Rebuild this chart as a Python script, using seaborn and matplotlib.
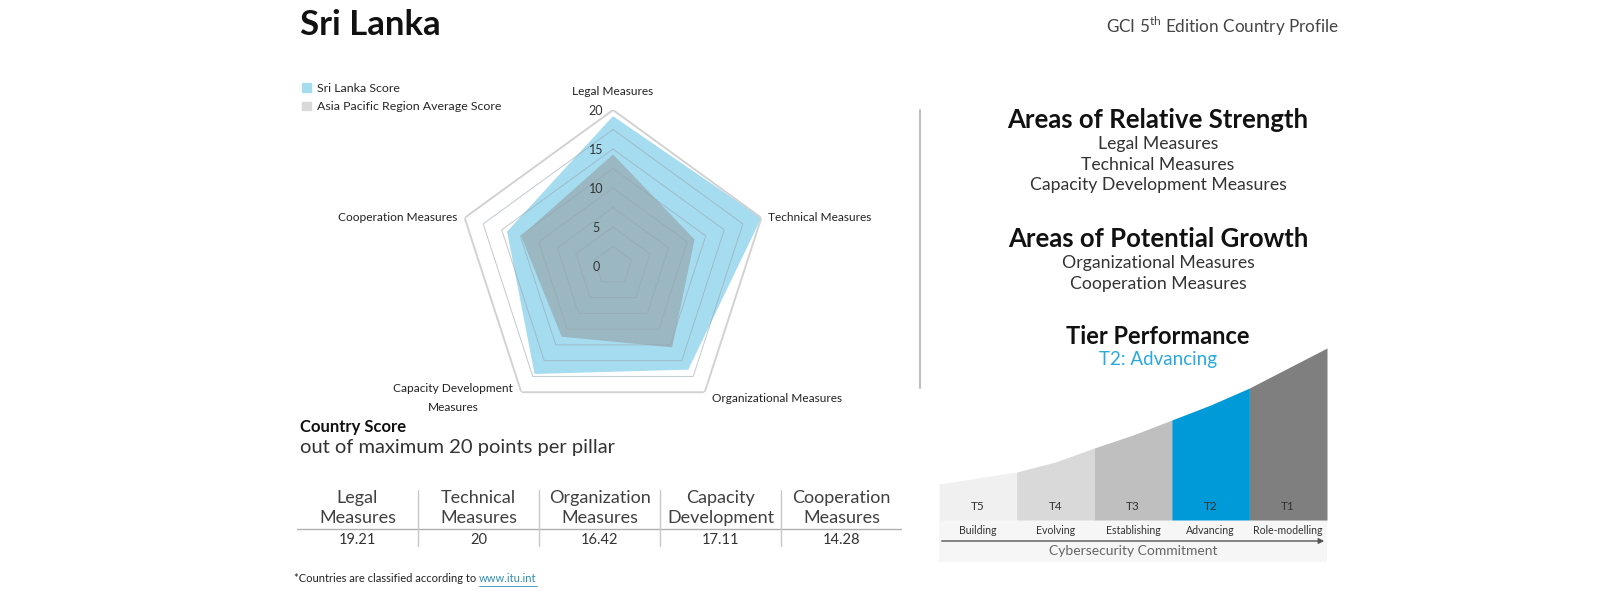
import numpy as np
import matplotlib.pyplot as plt
import seaborn as sns
from matplotlib.patches import Patch, Rectangle
from matplotlib.lines import Line2D

# ----------------------------------------------------------------------
# Data read from the GCI country profile
# ----------------------------------------------------------------------
country = "Sri Lanka"
pillars = ["Legal Measures", "Technical Measures", "Organizational Measures",
           "Capacity Development\nMeasures", "Cooperation Measures"]
country_scores = [19.21, 20, 16.42, 17.11, 14.28]
region_scores = [14.3, 11.0, 12.9, 11.2, 12.4]
ring_levels = [2.5, 5, 7.5, 10, 12.5, 15, 17.5, 20]
ring_labels = [0, 5, 10, 15, 20]

table_headers = ["Legal\nMeasures", "Technical\nMeasures", "Organization\nMeasures",
                 "Capacity\nDevelopment", "Cooperation\nMeasures"]
table_values = ["19.21", "20", "16.42", "17.11", "14.28"]

strengths = ["Legal Measures", "Technical Measures", "Capacity Development Measures"]
growth = ["Organizational Measures", "Cooperation Measures"]

tiers = ["T5", "T4", "T3", "T2", "T1"]
tier_names = ["Building", "Evolving", "Establishing", "Advancing", "Role-modelling"]
tier_colors = ["#f0f0f0", "#d9d9d9", "#bfbfbf", "#009ad9", "#7f7f7f"]
# height of the curved top, sampled at every half tier
tier_curve = [36, 42, 48, 58, 72, 85, 100, 115, 132, 152, 172]
current_tier = "T2: Advancing"

BLUE = "#a6dcf0"
W, H = 1600, 600


def fx(x):
    return x / W


def fy(y):
    return 1 - y / H


sns.set_theme(style="white")
plt.rcParams["font.family"] = ["Lato", "DejaVu Sans"]
plt.rcParams["mathtext.fontset"] = "custom"
plt.rcParams["mathtext.rm"] = "Lato"

fig = plt.figure(figsize=(16, 6), dpi=100)
fig.patch.set_facecolor("white")

# header
fig.text(fx(300), fy(25), country, fontsize=25, fontweight="bold", va="center", color="#111111")
fig.text(fx(1339), fy(26), r"GCI 5$^{\mathrm{th}}$ Edition Country Profile",
         fontsize=12.3, ha="right", va="center", color="#444444")

# ----------------------------------------------------------------------
# Radar chart
# ----------------------------------------------------------------------
ax = fig.add_axes([fx(457), fy(422), 312 / W, 312 / H], projection="polar")
ax.set_aspect("auto")
ax.set_theta_offset(np.pi / 2)
ax.set_theta_direction(-1)
theta = np.linspace(0, 2 * np.pi, len(pillars), endpoint=False)
tc = np.append(theta, theta[0])


def closed(v):
    return np.append(v, v[0])


ax.fill(tc, closed(country_scores), color=BLUE, lw=0, zorder=2)
ax.fill(tc, closed(region_scores), color="#8c8c8c", alpha=0.45, lw=0, zorder=3)
for r in ring_levels:
    outer = r == ring_levels[-1]
    ax.plot(tc, [r] * len(tc), color="#d2d2d2" if outer else "#98a6ad",
            lw=1.4 if outer else 0.7, alpha=1 if outer else 0.6, zorder=4)
for v in ring_labels:
    ax.annotate(str(v), (0, v), xytext=(-17, -1), textcoords="offset pixels",
                ha="center", va="center", fontsize=9, color="#333333", zorder=5)
ax.set_ylim(0, 20)
ax.axis("off")

label_pos = [((0, 13), "center", "bottom"), ((7, 0), "left", "center"),
             ((7, -6), "left", "center"), ((-68, -6), "center", "center"),
             ((-7, 0), "right", "center")]
for t, name, (off, ha, va) in zip(theta, pillars, label_pos):
    ax.annotate(name, (t, 20), xytext=off, textcoords="offset pixels", ha=ha, va=va,
                fontsize=8.6, color="#222222", linespacing=1.9)

fig.legend(handles=[Patch(color=BLUE, label=f"{country} Score"),
                    Patch(color="#d9d9d9", label="Asia Pacific Region Average Score")],
           loc="upper left", bbox_to_anchor=(fx(302), fy(83)), frameon=False,
           fontsize=8.9, handlelength=0.7, handleheight=0.7, handletextpad=0.5,
           labelspacing=0.6, borderaxespad=0, borderpad=0)

# ----------------------------------------------------------------------
# Country score table
# ----------------------------------------------------------------------
fig.text(fx(300), fy(427), "Country Score", fontsize=12, fontweight="bold", va="center", color="#111111")
fig.text(fx(300), fy(447), "out of maximum 20 points per pillar", fontsize=14.5, va="center", color="#333333")

tab = fig.add_axes([fx(297), fy(550), 605 / W, 62 / H])
tab.set_xlim(0, 5)
tab.set_ylim(0, 1)
tab.axis("off")
for i, (hd, val) in enumerate(zip(table_headers, table_values)):
    tab.text(i + 0.5, 0.68, hd, ha="center", va="center", fontsize=13, color="#404040", linespacing=1.35)
    tab.text(i + 0.5, 0.16, val, ha="center", va="center", fontsize=10.5, color="#333333")
tab.axhline(0.34, color="#b0b0b0", lw=1)
for i in range(1, len(table_headers)):
    tab.plot([i, i], [0.06, 0.97], color="#c8c8c8", lw=1)

foot = fig.text(fx(294), fy(579), "*Countries are classified according to ", fontsize=8,
                va="center", color="#222222")
fig.canvas.draw()
bb = foot.get_window_extent(fig.canvas.get_renderer())
link = fig.text(bb.x1 / W, fy(579), "www.itu.int", fontsize=8, va="center", color="#2f8fb5")
lb = link.get_window_extent(fig.canvas.get_renderer())
fig.add_artist(Line2D([lb.x0 / W, lb.x1 / W], [(lb.y0 - 1) / H] * 2, color="#2f8fb5", lw=0.6))

# separator
fig.add_artist(Line2D([fx(920), fx(920)], [fy(110), fy(388)], color="#c0c0c0", lw=1.5))

# ----------------------------------------------------------------------
# Strength / growth texts
# ----------------------------------------------------------------------
cx = fx(1158)
fig.text(cx, fy(120), "Areas of Relative Strength", fontsize=18.5, fontweight="bold",
         ha="center", va="center", color="#111111")
for k, s in enumerate(strengths):
    fig.text(cx, fy(144 + 20.5 * k), s, fontsize=12.7, ha="center", va="center", color="#333333")
fig.text(cx, fy(239), "Areas of Potential Growth", fontsize=18.5, fontweight="bold",
         ha="center", va="center", color="#111111")
for k, s in enumerate(growth):
    fig.text(cx, fy(263 + 21 * k), s, fontsize=12.7, ha="center", va="center", color="#333333")
fig.text(cx, fy(336), "Tier Performance", fontsize=17, fontweight="bold",
         ha="center", va="center", color="#111111")
fig.text(cx, fy(360), current_tier, fontsize=13.5, ha="center", va="center", color="#29a9e0")

# ----------------------------------------------------------------------
# Tier staircase
# ----------------------------------------------------------------------
tx = fig.add_axes([fx(939), fy(520), 388 / W, 172 / H])
tx.set_xlim(0, 5)
tx.set_ylim(0, 172)
tx.axis("off")
tx.add_patch(Rectangle((0, -42), 5, 42, color="#f6f6f6", lw=0, clip_on=False))
xs = np.linspace(0, 5, len(tier_curve))
for i, (t, nm, c) in enumerate(zip(tiers, tier_names, tier_colors)):
    seg = slice(2 * i, 2 * i + 3)
    tx.fill_between(xs[seg], 0, tier_curve[seg], color=c, lw=0)
    tx.text(i + 0.5, 13, t, ha="center", va="center", fontsize=8.5, color="#333333")
    tx.text(i + 0.5, -10, nm, ha="center", va="center", fontsize=7.6, color="#333333", clip_on=False)
tx.annotate("", xy=(5, -21), xytext=(0, -21), annotation_clip=False,
            arrowprops=dict(arrowstyle="-|>", color="#555555", lw=1, mutation_scale=8))
tx.text(2.5, -31, "Cybersecurity Commitment", ha="center", va="center", fontsize=10,
        color="#666666", clip_on=False)

fig.savefig("out.png", dpi=100, facecolor="white")
